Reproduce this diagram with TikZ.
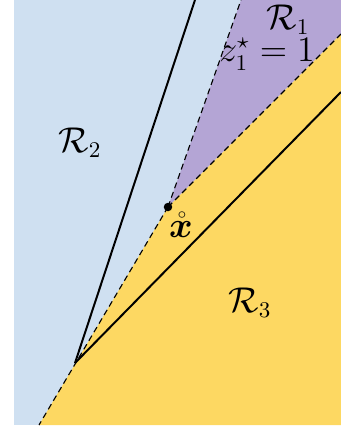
\documentclass[tikz,border=0pt]{standalone}
\usepackage{amsmath}
\usepackage{amssymb}
\usepackage{bm}
\usepackage{tikz}
\usetikzlibrary{calc}
\definecolor{regionbleu}{HTML}{CFE0F1}
\definecolor{regionmauve}{HTML}{B4A5D5}
\definecolor{regionjaune}{HTML}{FDD862}

\begin{document}
\begin{tikzpicture}[
  x=0.4bp, y=-0.4bp,
  font=\fontsize{13.4}{16}\selectfont,
  boundary/.style={draw=black, dashed, line width=0.45pt, dash pattern=on 2.4pt off 1.6pt},
  facet/.style={draw=black, line width=0.8pt},
  label/.style={inner sep=0pt, align=center}
]
\useasboundingbox (0,0) rectangle (341,430);

% points
\coordinate (xo) at (168,207);
\coordinate (apex) at (75,363);
\coordinate (topA) at (241,0);
\coordinate (rightA) at (341,34);
\coordinate (botA) at (39,425);
\coordinate (topB) at (195,0);
\coordinate (rightB) at (341,92);

% regions
\fill[regionbleu] (14,0) rectangle (341,425);
\fill[regionmauve] (xo) -- (topA) -- (341,0) -- (rightA) -- cycle;
\fill[regionjaune] (xo) -- (rightA) -- (341,425) -- (botA) -- cycle;

% boundaries
\draw[boundary] (xo) -- (topA);
\draw[boundary] (xo) -- (rightA);
\draw[boundary] (xo) -- (botA);
\draw[facet] (apex) -- (topB);
\draw[facet] (apex) -- (rightB);
\fill (xo) circle[radius=1.7bp];

% labels
\node[label] (r1) at (288,20) {$\mathcal{R}_1$};
\node[label] (z1) at (267,54) {$z_1^{\star} = 1$};
\node[label] (r2) at (80,143) {$\mathcal{R}_2$};
\node[label] (r3) at (250,303) {$\mathcal{R}_3$};
\node[label] (xl) at (181,225) {$\mathring{\bm{x}}$};
\end{tikzpicture}
\end{document}
